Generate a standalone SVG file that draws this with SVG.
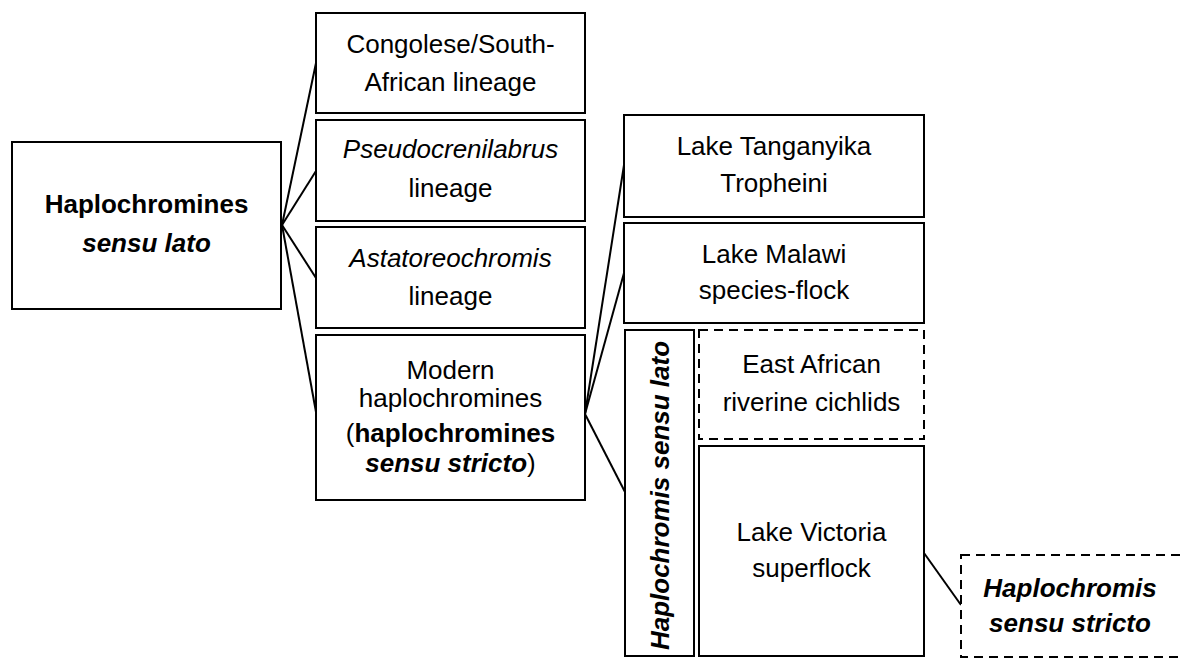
<svg xmlns="http://www.w3.org/2000/svg" width="1181" height="658" viewBox="0 0 1181 658">
<style>
.box{fill:#fff;stroke:#000;stroke-width:2}
.dash{fill:#fff;stroke:#000;stroke-width:2;stroke-dasharray:9 6}
.c{fill:none;stroke:#000;stroke-width:2}
text{font-family:"Liberation Sans",Arial,sans-serif;font-size:26px;fill:#000;text-anchor:middle}
.b{font-weight:bold}
.i{font-style:italic}
</style>
<rect width="1181" height="658" fill="#fff"/>
<g id="connectors">
<line class="c" x1="282" y1="225" x2="316" y2="63"/>
<line class="c" x1="282" y1="225" x2="316" y2="171"/>
<line class="c" x1="282" y1="225" x2="316" y2="278"/>
<line class="c" x1="282" y1="225" x2="316" y2="412"/>
<line class="c" x1="585" y1="414" x2="624" y2="165"/>
<line class="c" x1="585" y1="414" x2="624" y2="273"/>
<line class="c" x1="585" y1="414" x2="625" y2="492"/>
<line class="c" x1="924" y1="553" x2="961" y2="605"/>
</g>
<g id="root">
<rect class="box" x="12" y="142" width="269" height="167"/>
<text x="146.5" y="213" class="b">Haplochromines</text>
<text x="146.5" y="252" class="b i">sensu lato</text>
</g>
<g id="congolese">
<rect class="box" x="316" y="13" width="269" height="100"/>
<text x="450.5" y="53">Congolese/South-</text>
<text x="450.5" y="90.5">African lineage</text>
</g>
<g id="pseudocrenilabrus">
<rect class="box" x="316" y="120" width="269" height="101"/>
<text x="450.5" y="158" class="i">Pseudocrenilabrus</text>
<text x="450.5" y="196.5">lineage</text>
</g>
<g id="astatoreochromis">
<rect class="box" x="316" y="227" width="269" height="101"/>
<text x="450.5" y="266.5" class="i">Astatoreochromis</text>
<text x="450.5" y="305">lineage</text>
</g>
<g id="modern">
<rect class="box" x="316" y="335" width="269" height="165"/>
<text x="450.5" y="379">Modern</text>
<text x="450.5" y="406.5">haplochromines</text>
<text x="450.5" y="442">(<tspan class="b">haplochromines</tspan></text>
<text x="450.5" y="472"><tspan class="b i">sensu stricto</tspan>)</text>
</g>
<g id="tanganyika">
<rect class="box" x="624" y="115" width="300" height="102"/>
<text x="774" y="155">Lake Tanganyika</text>
<text x="774" y="191.5">Tropheini</text>
</g>
<g id="malawi">
<rect class="box" x="624" y="223" width="300" height="100"/>
<text x="774" y="263">Lake Malawi</text>
<text x="774" y="299">species-flock</text>
</g>
<g id="haplochromis-sensu-lato">
<rect class="box" x="625" y="330" width="69" height="326"/>
<text transform="translate(669 495.5) rotate(-90)" class="b i">Haplochromis sensu lato</text>
</g>
<g id="east-african">
<rect class="dash" x="699" y="330" width="225" height="109"/>
<text x="811.5" y="373">East African</text>
<text x="811.5" y="410.5">riverine cichlids</text>
</g>
<g id="victoria">
<rect class="box" x="699" y="446" width="225" height="210"/>
<text x="811.5" y="540.5">Lake Victoria</text>
<text x="811.5" y="577">superflock</text>
</g>
<g id="haplochromis-sensu-stricto">
<rect class="dash" x="961" y="555" width="245" height="102"/>
<text x="1070" y="596.5" class="b i">Haplochromis</text>
<text x="1070" y="631.5" class="b i">sensu stricto</text>
</g>
</svg>
